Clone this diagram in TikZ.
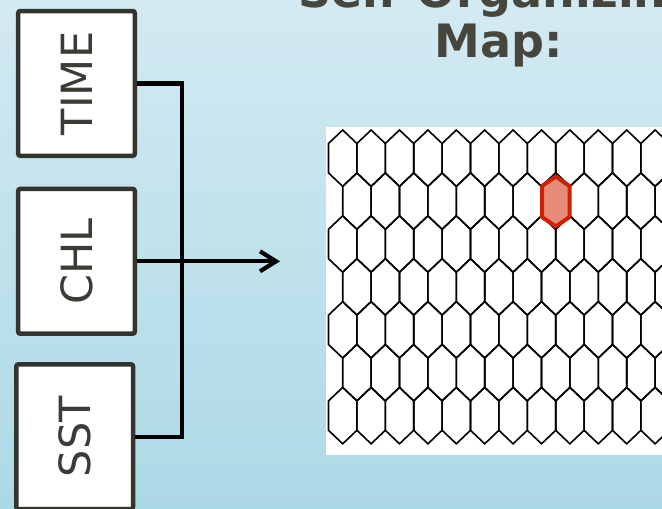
\documentclass[tikz,border=0pt]{standalone}
\usepackage{fontspec}
\setmainfont{DejaVu Sans}
\usetikzlibrary{arrows.meta}
\definecolor{bgtop}{RGB}{211,234,242}
\definecolor{bgbot}{RGB}{172,217,230}
\definecolor{boxline}{RGB}{52,52,46}
\definecolor{txt}{RGB}{60,60,54}
\definecolor{titletxt}{RGB}{70,70,60}
\definecolor{redline}{RGB}{204,34,0}
\definecolor{redfill}{RGB}{230,138,122}
\begin{document}
\begin{tikzpicture}[x=1pt,y=-1pt,
  varbox/.style={draw=boxline, line width=4.5pt, fill=white, rounded corners=2pt,
    minimum width=116.6pt, minimum height=144.7pt, inner sep=0pt, text=txt,
    font=\fontsize{43}{50}\selectfont},
  wire/.style={line width=4.2pt, draw=black},
  hexline/.style={line width=1.6pt, draw=black, line join=miter},
  titlefont/.style={font=\bfseries\fontsize{46}{50}\selectfont, text=titletxt, anchor=base, inner sep=0pt}]
\fill[top color=bgtop, bottom color=bgbot] (0,0) rectangle (662,509);
\useasboundingbox (0,0) rectangle (662,509);

% title
\node[titlefont] (title1) at (499,7) {Self-Organizing};
\node[titlefont] (title2) at (499,57) {Map:};

% map panel
\fill[white] (326,127.3) rectangle (662,455);
\begin{scope}
  \clip (326,127.3) rectangle (662,455);
  \foreach \r in {0,...,6} {
    \pgfmathsetmacro{\cy}{158.2+42.9*\r}
    \pgfmathsetmacro{\cxo}{mod(\r,2)==0 ? 342.7 : 356.9}
    \foreach \k in {0,...,11} {
      \pgfmathsetmacro{\cx}{\cxo+28.4*\k}
      \draw[hexline] (\cx,\cy-28.2) -- (\cx+14.2,\cy-14.7) -- (\cx+14.2,\cy+14.7)
        -- (\cx,\cy+28.2) -- (\cx-14.2,\cy+14.7) -- (\cx-14.2,\cy-14.7) -- cycle;
    }
  }
\end{scope}
\draw[line width=4pt, draw=redline, fill=redfill, line join=round]
  (555.8,176.5) -- (569.5,186) -- (569.5,217) -- (555.8,226.5) -- (542,217) -- (542,186) -- cycle;

% variable boxes
\node[varbox] (time) at (76.5,83.4) {\rotatebox{90}{TIME}};
\node[varbox] (chl) at (76.5,261.3) {\rotatebox{90}{CHL}};
\node[varbox] (sst) at (74.7,436.7) {\rotatebox{90}{SST}};

% connectors
\coordinate (bus) at (181.7,260);
\coordinate (arrowend) at (280,261.3);
\draw[wire] (time.east) -| (bus) |- (sst.east);
\draw[wire, -{Straight Barb[length=16pt,width=20pt]}] (chl.east) -- (arrowend);
\end{tikzpicture}
\end{document}
